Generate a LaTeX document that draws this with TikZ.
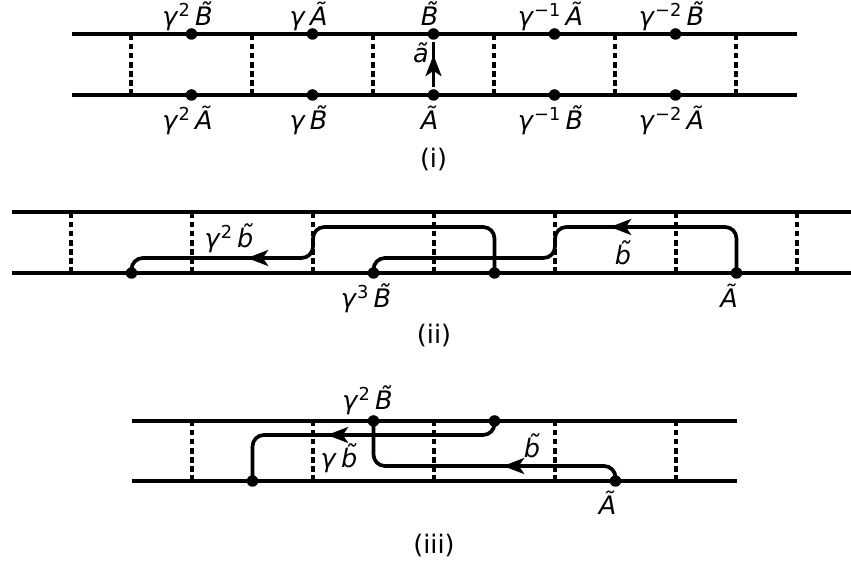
\documentclass[tikz,border=0pt]{standalone}
\usepackage{fontspec}
\setmainfont{DejaVu Sans}
\usetikzlibrary{arrows.meta}
\tikzset{every picture/.style={line width=2.1pt}}
\newcommand{\gp}[1]{\textit{γ}\textsuperscript{#1}\,}
\newcommand{\At}{\textit{Ã}}
\newcommand{\Bt}{\textit{\accent"02DC B}}
\newcommand{\bt}{\textit{\accent"02DC b}}

\begin{document}
\begin{tikzpicture}[x=1cm,y=1cm,
  dot/.style={circle,fill,inner sep=0pt,minimum size=0.23cm},
  rung/.style={line width=1.9pt,dash pattern=on 3.2pt off 2pt},
  lab/.style={anchor=base,inner sep=0pt,font=\fontsize{14.5}{16}\selectfont},
  midarrow/.style={-{Stealth[length=12pt,width=9pt,inset=3pt]}},
  route/.style={rounded corners=6.5pt}]
\useasboundingbox (0,0) rectangle (17.02,11.26);
% (i) the ladder with the lift a
\draw (1.44,10.58) -- (15.94,10.58);
\draw (1.44,9.36) -- (15.94,9.36);
\foreach \x in {2.62,5.04,7.46,9.88,12.30,14.72}
  \draw[rung] (\x,9.36) -- (\x,10.58);
\foreach \x/\n/\up/\dn in {3.83/1/{\gp{2}\Bt}/{\gp{2}\At}, 6.25/2/{\textit{γ}\,\At}/{\textit{γ}\,\Bt},
    8.67/3/{\Bt}/{\At}, 11.09/4/{\gp{−1}\At}/{\gp{−1}\Bt}, 13.51/5/{\gp{−2}\Bt}/{\gp{−2}\At}}{
  \node[dot] (iu\n) at (\x,10.58) {};
  \node[dot] (id\n) at (\x,9.36) {};
  \node[lab] (iut\n) at (\x-0.08,10.74) {\up};
  \node[lab] (idt\n) at (\x-0.08,8.66) {\dn};
}
\draw (id3) -- (iu3);
\draw[midarrow] (8.67,9.80) -- (8.67,10.16);
\node[lab] (ia) at (8.42,10.00) {\textit{ã}};
\node[lab] (icap) at (8.67,7.90) {(i)};
% (ii) two lifts of b
\draw (0.24,7.02) -- (17.02,7.02);
\draw (0.24,5.80) -- (17.02,5.80);
\foreach \x in {1.42,3.84,6.26,8.68,11.10,13.52,15.94}
  \draw[rung] (\x,5.80) -- (\x,7.02);
\node[dot] (iiA) at (14.73,5.80) {};
\node[dot] (iiB) at (7.47,5.80) {};
\node[dot] (iiC) at (9.89,5.80) {};
\node[dot] (iiD) at (2.63,5.80) {};
\draw[route] (iiA.center) -- (14.73,6.72) -- (11.10,6.72) -- (11.10,6.10) -- (7.47,6.10) -- (iiB.center);
\draw[route] (iiC.center) -- (9.89,6.72) -- (6.26,6.72) -- (6.26,6.10) -- (2.63,6.10) -- (iiD.center);
\draw[midarrow] (12.62,6.72) -- (12.20,6.72);
\draw[midarrow] (5.36,6.10) -- (4.94,6.10);
\node[lab] (iib1) at (4.58,6.30) {\gp{2}\bt};
\node[lab] (iib2) at (12.46,5.96) {\bt};
\node[lab] (iiBl) at (7.32,5.10) {\gp{3}\Bt};
\node[lab] (iiAl) at (14.58,5.10) {\At};
\node[lab] (iicap) at (8.68,4.38) {(ii)};
% (iii) the crossing lifts
\draw (2.64,2.84) -- (14.74,2.84);
\draw (2.64,1.64) -- (14.74,1.64);
\foreach \x in {3.84,6.26,8.68,11.10,13.52}
  \draw[rung] (\x,1.64) -- (\x,2.84);
\node[dot] (iiiA) at (12.31,1.64) {};
\node[dot] (iiiB) at (7.47,2.84) {};
\node[dot] (iiiC) at (9.89,2.84) {};
\node[dot] (iiiD) at (5.05,1.64) {};
\draw[route] (iiiA.center) -- (12.31,1.94) -- (7.47,1.94) -- (iiiB.center);
\draw[route] (iiiC.center) -- (9.89,2.56) -- (5.05,2.56) -- (iiiD.center);
\draw[midarrow] (10.48,1.94) -- (10.06,1.94);
\draw[midarrow] (6.96,2.56) -- (6.54,2.56);
\node[lab] (iiiBl) at (7.35,3.06) {\gp{2}\Bt};
\node[lab] (iiib1) at (10.64,2.10) {\bt};
\node[lab] (iiib2) at (6.78,1.90) {\textit{γ}\,\bt};
\node[lab] (iiiAl) at (12.15,0.96) {\At};
\node[lab] (iiicap) at (8.68,0.18) {(iii)};
\end{tikzpicture}
\end{document}
